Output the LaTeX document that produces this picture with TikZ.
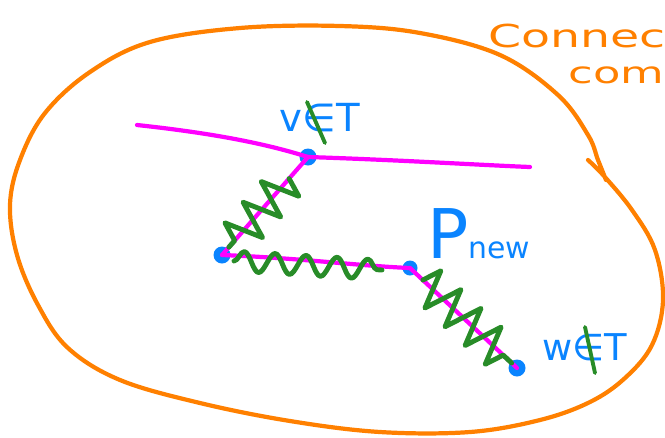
\documentclass[tikz,border=0pt]{standalone}
\usepackage{fontspec}
\setmainfont{DejaVu Sans}
\usepackage{tikz}
\usetikzlibrary{positioning,calc,decorations.pathmorphing}
\usepackage{xcolor}
\definecolor{penorange}{RGB}{255,128,0}
\definecolor{penmagenta}{RGB}{255,0,255}
\definecolor{penblue}{RGB}{10,132,255}
\definecolor{pengreen}{RGB}{40,140,40}

\begin{document}
\begin{tikzpicture}[
    x=0.02cm, y=-0.02cm,
    line cap=round, line join=round,
    blob/.style={draw=penorange, line width=2.4pt},
    pathedge/.style={draw=penmagenta, line width=2.4pt},
    vdot/.style={
        circle,
        fill=penblue,
        minimum size=0.34cm,
        inner sep=0pt
    },
    zig/.style={draw=pengreen, line width=2.8pt, decorate,
        decoration={zigzag, segment length=0.55cm, amplitude=0.38cm}},
    wave/.style={draw=pengreen, line width=2.8pt, decorate,
        decoration={snake, segment length=0.62cm, amplitude=0.2cm}},
    slash/.style={draw=pengreen, line width=2.2pt},
    bluetext/.style={text=penblue, inner sep=0pt},
    notetext/.style={text=penorange, inner sep=0pt, anchor=base west}
]
\clip (0,0) rectangle (665,437);

% ---------------- Component ----------------
\draw[blob] plot[smooth, tension=0.6] coordinates {
    (588,160) (604,176) (632,210) (655,250) (663,300) (652,345)
    (625,378) (590,402) (540,420) (470,432) (380,432) (290,421)
    (200,403) (120,380) (68,348) (38,305) (17,255) (10,205)
    (20,160) (45,113) (90,72) (150,42) (240,28) (340,26)
    (420,33) (500,55) (558,95) (588,135) (598,160) (606,180)};

\node[notetext] (title1) at (488,47)
    {\scalebox{1.5}[1]{\fontsize{18}{18}\selectfont Connec}};
\node[notetext] (title2) at (568,83)
    {\scalebox{1.5}[1]{\fontsize{17}{17}\selectfont com}};

% ---------------- Vertices ----------------
\node[vdot] (vtop) at (308,157) {};
\node[vdot] (corner) at (222,255) {};
\node[vdot, minimum size=0.3cm] (pmid) at (410,268) {};
\node[vdot] (wend) at (517,368) {};
\coordinate (lend) at (137,125);
\coordinate (rend) at (530,167);

% ---------------- Paths ----------------
\draw[pathedge] (lend) .. controls (220,134) and (270,145) .. (vtop.center);
\draw[pathedge] (vtop.center) .. controls (400,160) and (480,165) .. (rend);
\draw[pathedge] (vtop.center) -- (corner.center);
\draw[pathedge] (corner.center) .. controls (300,258) and (360,266) .. (pmid.center);
\draw[pathedge] (pmid.center) -- (wend.center);

% ---------------- Green strokes ----------------
\draw[zig] ($(vtop)!0.22!(corner)$) -- ($(vtop)!0.92!(corner)$);
\draw[wave] ($(corner)+(12,6)$) -- ($(pmid)+(-28,2)$);
\draw[zig] ($(pmid)!0.12!(wend)$) -- ($(pmid)!0.95!(wend)$);

% ---------------- Labels ----------------
\node[bluetext] (vlabel) at (320,118) {\fontsize{22}{22}\selectfont v∈T};
\draw[slash] ($(vlabel.center)+(-13,-16)$) -- ($(vlabel.center)+(5,25)$);

\node[bluetext, anchor=base west] (plabel) at (427,258)
    {\fontsize{39}{39}\selectfont P\fontsize{17}{17}\selectfont new};

\node[bluetext] (wlabel) at (585,347) {\fontsize{21}{21}\selectfont w∈T};
\draw[slash] ($(wlabel.center)+(0,-20)$) -- ($(wlabel.center)+(10,26)$);

\end{tikzpicture}
\end{document}
